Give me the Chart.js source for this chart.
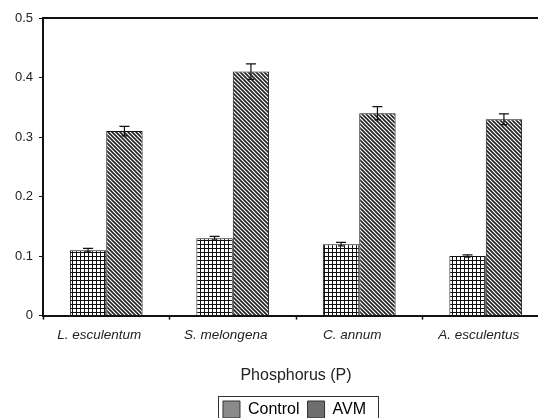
<!DOCTYPE html>
<html>
<head>
<meta charset="utf-8">
<script src="https://cdn.jsdelivr.net/npm/chart.js@4.4.1/dist/chart.umd.min.js"></script>
<style>
  html, body { margin: 0; padding: 0; background: #fff; overflow: hidden; }
  #caja { width: 560px; height: 430px; }
</style>
</head>
<body>
<div id="caja"><canvas id="grafico"></canvas></div>
<script>
const especies = ["L. esculentum", "S. melongena", "C. annum", "A. esculentus"];
const valoresControl = [0.11, 0.13, 0.12, 0.10];
const errorControl = [0.003, 0.003, 0.003, 0.002];
const valoresAVM = [0.31, 0.41, 0.34, 0.33];
const errorAVM = [0.008, 0.013, 0.011, 0.009];
const marcasY = [0, 0.1, 0.2, 0.3, 0.4, 0.5];

const fuente = "'Liberation Sans', Arial, sans-serif";

function patronCuadros() {
  const c = document.createElement("canvas");
  c.width = 4; c.height = 4;
  const g = c.getContext("2d");
  g.fillStyle = "#fff";
  g.fillRect(0, 0, 4, 4);
  g.fillStyle = "#111";
  g.fillRect(0, 0, 4, 1);
  g.fillRect(0, 0, 1, 4);
  return g.createPattern(c, "repeat");
}

function patronRayas() {
  const c = document.createElement("canvas");
  c.width = 4; c.height = 4;
  const g = c.getContext("2d");
  g.fillStyle = "#fff";
  g.fillRect(0, 0, 4, 4);
  g.strokeStyle = "#222";
  g.lineWidth = 1.6;
  g.beginPath();
  g.moveTo(-1, -1); g.lineTo(5, 5);
  g.moveTo(-1, 3); g.lineTo(1, 5);
  g.moveTo(3, -1); g.lineTo(5, 1);
  g.stroke();
  return g.createPattern(c, "repeat");
}

const contexto = document.getElementById("grafico").getContext("2d");

// barras de error, marco superior y recuadro de la leyenda
const extras = {
  id: "extras",
  afterLayout(chart) {
    // la leyenda va centrada bajo el area del grafico, no bajo el lienzo
    const d = 20;
    const leyenda = chart.legend;
    leyenda.left += d;
    leyenda.right += d;
    (leyenda.legendHitBoxes || []).forEach(b => { b.left += d; });
  },
  afterDatasetsDraw(chart) {
    const ctx = chart.ctx;
    const y = chart.scales.y;
    const errores = [errorControl, errorAVM];
    ctx.save();
    ctx.strokeStyle = "#111";
    ctx.lineWidth = 1.2;
    chart.data.datasets.forEach((ds, i) => {
      chart.getDatasetMeta(i).data.forEach((barra, j) => {
        const v = ds.data[j];
        const e = errores[i][j];
        const arriba = y.getPixelForValue(v + e);
        const abajo = y.getPixelForValue(v - e);
        ctx.beginPath();
        ctx.moveTo(barra.x, arriba); ctx.lineTo(barra.x, abajo);
        ctx.moveTo(barra.x - 5, arriba); ctx.lineTo(barra.x + 5, arriba);
        ctx.moveTo(barra.x - 3, abajo); ctx.lineTo(barra.x + 3, abajo);
        ctx.stroke();
      });
    });
    const a = chart.chartArea;
    ctx.strokeStyle = "#111";
    ctx.lineWidth = 2;
    ctx.beginPath();
    ctx.moveTo(a.left, a.top); ctx.lineTo(a.right, a.top);
    ctx.stroke();
    ctx.restore();
  },
  afterDraw(chart) {
    const cajas = chart.legend.legendHitBoxes;
    if (!cajas || !cajas.length) return;
    const izq = Math.min(...cajas.map(b => b.left)) - 5;
    const der = Math.max(...cajas.map(b => b.left + b.width)) + 12;
    const centro = cajas[0].top + cajas[0].height / 2;
    const arr = centro - 14;
    const aba = centro + 14;
    const ctx = chart.ctx;
    ctx.save();
    ctx.strokeStyle = "#333";
    ctx.lineWidth = 1;
    ctx.strokeRect(Math.round(izq) + 0.5, Math.round(arr) + 0.5, Math.round(der - izq), Math.round(aba - arr));
    ctx.restore();
  }
};

new Chart(contexto, {
  type: "bar",
  data: {
    labels: especies,
    datasets: [
      {
        label: "Control",
        data: valoresControl,
        backgroundColor: patronCuadros(),
        borderColor: "#111",
        borderWidth: 1,
        categoryPercentage: 0.575,
        barPercentage: 1,
      },
      {
        label: "AVM",
        data: valoresAVM,
        backgroundColor: patronRayas(),
        borderColor: "#111",
        borderWidth: 1,
        categoryPercentage: 0.575,
        barPercentage: 1,
      },
    ],
  },
  options: {
    responsive: true,
    maintainAspectRatio: false,
    animation: false,
    layout: { padding: { top: 18, right: 11, left: 0, bottom: 2 } },
    plugins: {
      tooltip: { enabled: false },
      legend: {
        position: "bottom",
        labels: {
          font: { family: fuente, size: 16 },
          color: "#222",
          boxWidth: 17,
          boxHeight: 17,
          padding: 8,
          generateLabels(chart) {
            return chart.data.datasets.map((ds, i) => ({
              text: ds.label,
              fillStyle: i === 0 ? "#8a8a8a" : "#6e6e6e",
              strokeStyle: "#333",
              lineWidth: 1,
              datasetIndex: i,
            }));
          },
        },
      },
    },
    scales: {
      x: {
        grid: {
          offset: true,
          drawOnChartArea: false,
          tickLength: 4,
          color: "#111",
          tickWidth: 1.5,
        },
        border: { color: "#111", width: 2 },
        ticks: {
          font: { family: fuente, size: 13.5, style: "italic" },
          color: "#222",
          padding: 8,
          labelOffset: -7,
          maxRotation: 0,
        },
        title: {
          display: true,
          text: "Phosphorus (P)",
          font: { family: fuente, size: 16 },
          color: "#222",
          padding: { top: 14, bottom: 8 },
        },
      },
      y: {
        min: 0,
        max: 0.5,
        afterFit(scale) { scale.width = 43; },
        afterBuildTicks(scale) { scale.ticks = marcasY.map(v => ({ value: v })); },
        grid: {
          drawOnChartArea: false,
          tickLength: 4,
          color: "#111",
        },
        border: { color: "#111", width: 2 },
        ticks: {
          font: { family: fuente, size: 13 },
          color: "#222",
          padding: 6,
          callback: (v) => (v === 0 ? "0" : v.toFixed(1)),
        },
      },
    },
  },
  plugins: [extras],
});
</script>
</body>
</html>
